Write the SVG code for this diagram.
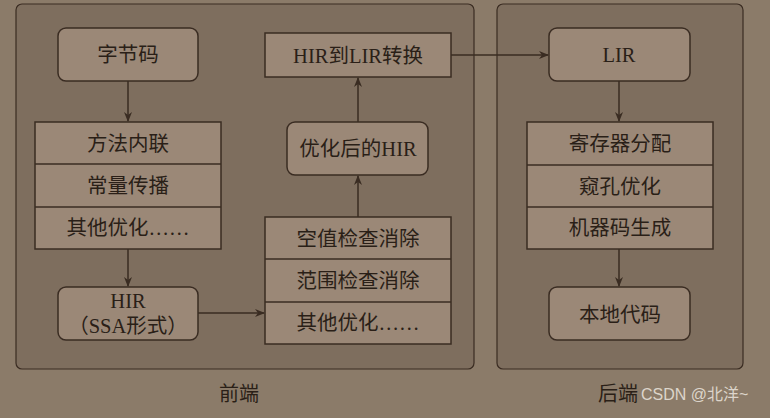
<svg xmlns="http://www.w3.org/2000/svg" width="770" height="418" viewBox="0 0 770 418">
<defs>
<marker id="ah" markerWidth="10" markerHeight="10" refX="9" refY="5" orient="auto" markerUnits="userSpaceOnUse">
<path d="M0,1 L10,5 L0,9 L3,5 Z" fill="#3a2c22"/>
</marker>
<style>
.panel{fill:#7e6e5e;stroke:#3a2c22;stroke-width:1.2}
.box{fill:#9b8877;stroke:#3a2c22;stroke-width:1.5}
.t{font-family:"Liberation Serif","Noto Sans CJK SC",serif;font-size:20.5px;fill:#2a1f17;text-anchor:middle;dominant-baseline:central}
.lbl{font-family:"Liberation Serif","Noto Sans CJK SC",serif;font-size:20px;fill:#2a1f17;text-anchor:middle;dominant-baseline:central}
.c{fill:none;stroke:#3a2c22;stroke-width:1.5}
</style>
</defs>
<rect x="0" y="0" width="770" height="418" fill="#8b7b69"/>
<g id="frontend">
<rect class="panel" x="16" y="4" width="458" height="365" rx="6"/>
<text class="lbl" x="239" y="394">前端</text>
</g>
<g id="backend">
<rect class="panel" x="497" y="4" width="246" height="365" rx="6"/>
<text class="lbl" x="618" y="394">后端</text>
</g>
<g id="bytecode">
<rect class="box" x="58" y="28" width="140" height="53" rx="8"/>
<text class="t" x="128" y="55">字节码</text>
</g>
<g id="opt1">
<rect class="box" x="35" y="122" width="186" height="127"/>
<line class="c" x1="35" y1="164" x2="221" y2="164"/>
<line class="c" x1="35" y1="207" x2="221" y2="207"/>
<text class="t" x="128" y="144">方法内联</text>
<text class="t" x="128" y="186">常量传播</text>
<text class="t" x="128" y="228">其他优化……</text>
</g>
<g id="hir">
<rect class="box" x="58" y="287" width="140" height="53" rx="8"/>
<text class="t" x="128" y="301">HIR</text>
<text class="t" x="128" y="326">（SSA形式）</text>
</g>
<g id="opt2">
<rect class="box" x="265" y="217" width="186" height="127"/>
<line class="c" x1="265" y1="259" x2="451" y2="259"/>
<line class="c" x1="265" y1="302" x2="451" y2="302"/>
<text class="t" x="358" y="239">空值检查消除</text>
<text class="t" x="358" y="281">范围检查消除</text>
<text class="t" x="358" y="323">其他优化……</text>
</g>
<g id="opthir">
<rect class="box" x="287" y="122" width="141" height="53" rx="8"/>
<text class="t" x="358" y="149">优化后的HIR</text>
</g>
<g id="hir2lir">
<rect class="box" x="265" y="33" width="186" height="44"/>
<text class="t" x="358" y="56">HIR到LIR转换</text>
</g>
<g id="lir">
<rect class="box" x="549" y="28" width="141" height="53" rx="8"/>
<text class="t" x="619" y="55">LIR</text>
</g>
<g id="opt3">
<rect class="box" x="527" y="122" width="186" height="127"/>
<line class="c" x1="527" y1="165" x2="713" y2="165"/>
<line class="c" x1="527" y1="207" x2="713" y2="207"/>
<text class="t" x="620" y="144">寄存器分配</text>
<text class="t" x="620" y="187">窥孔优化</text>
<text class="t" x="620" y="228">机器码生成</text>
</g>
<g id="native">
<rect class="box" x="549" y="287" width="141" height="53" rx="8"/>
<text class="t" x="620" y="315">本地代码</text>
</g>
<g id="connectors">
<line class="c" x1="128" y1="81" x2="128" y2="121" marker-end="url(#ah)"/>
<line class="c" x1="128" y1="249" x2="128" y2="286" marker-end="url(#ah)"/>
<line class="c" x1="198" y1="313" x2="264" y2="313" marker-end="url(#ah)"/>
<line class="c" x1="358" y1="217" x2="358" y2="176" marker-end="url(#ah)"/>
<line class="c" x1="358" y1="122" x2="358" y2="78" marker-end="url(#ah)"/>
<line class="c" x1="451" y1="55" x2="548" y2="55" marker-end="url(#ah)"/>
<line class="c" x1="619" y1="81" x2="619" y2="121" marker-end="url(#ah)"/>
<line class="c" x1="619" y1="249" x2="619" y2="286" marker-end="url(#ah)"/>
</g>
<text x="641" y="400" font-family="'Liberation Sans','Noto Sans CJK SC',sans-serif" font-size="16" fill="#ece6df" fill-opacity="0.85">CSDN @北洋~</text>
</svg>
